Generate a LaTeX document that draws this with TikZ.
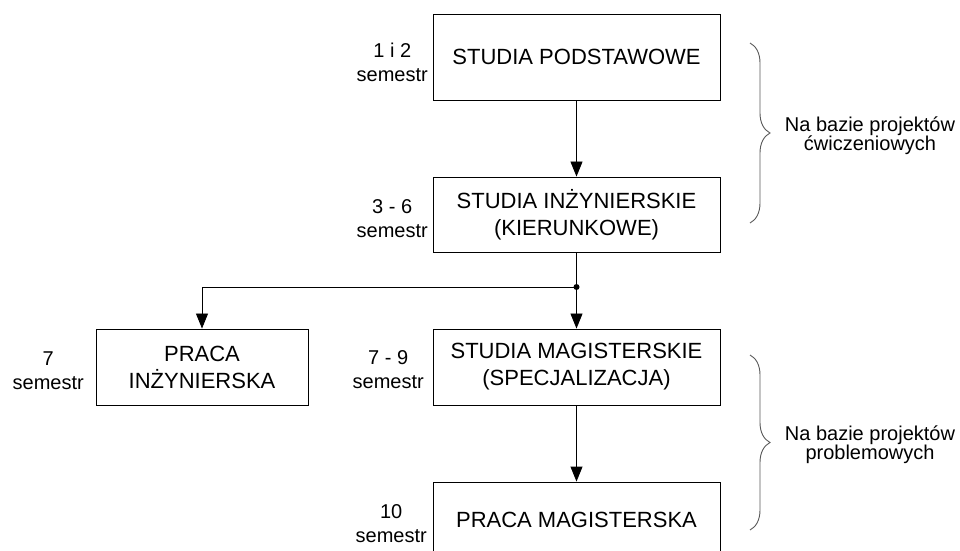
\documentclass[tikz,border=0pt]{standalone}
\usepackage{fontspec}
\setmainfont{Liberation Sans}
\usetikzlibrary{arrows.meta,decorations.pathreplacing}
\tikzset{
  box/.style={draw, rectangle, minimum width=287bp, align=center, font=\fontsize{22bp}{27bp}\selectfont, inner sep=0pt, line width=0.9bp},
  side/.style={anchor=east, align=center, font=\fontsize{20bp}{24bp}\selectfont, inner sep=0pt},
  arr/.style={-{Triangle[length=15bp, width=12bp]}, line width=0.9bp},
  line/.style={line width=0.9bp},
  brc/.style={decorate, decoration={brace, amplitude=20bp}, line width=0.9bp, draw=black!65},
  lbl/.style={align=center, font=\fontsize{20bp}{19bp}\selectfont, inner sep=0pt}
}
\begin{document}
\begin{tikzpicture}[x=1bp, y=-1bp]
\useasboundingbox (0,0) rectangle (960,551);
% boxes
\node[box, minimum height=86bp] (pod) at (576.5,57) {STUDIA PODSTAWOWE};
\node[box, minimum height=75bp] (inz) at (576.5,214.5) {STUDIA INŻYNIERSKIE\\(KIERUNKOWE)};
\node[box, minimum width=212bp, minimum height=76bp] (prinz) at (202,367) {PRACA\\INŻYNIERSKA};
\node[box, minimum height=76bp] (mag) at (576.5,367) {STUDIA MAGISTERSKIE\\(SPECJALIZACJA)};
\node[box, minimum height=76bp] (prmag) at (576.5,520) {PRACA MAGISTERSKA};
% semesters
\node[side] (s12) at (428,62) {1 i 2\\semestr};
\node[side] (s36) at (428,219) {3 - 6\\semestr};
\node[side] (s7) at (84,371) {7\\semestr};
\node[side] (s79) at (424,370) {7 - 9\\semestr};
\node[side] (s10) at (427,524) {10\\semestr};
% connections
\coordinate (split) at (576.5,287);
\draw[arr] (pod) -- (inz);
\draw[line] (inz) -- (split);
\draw[arr] (split) -- (mag);
\draw[arr] (split) -| (prinz);
\draw[arr] (mag) -- (prmag);
\fill (split) circle (3bp);
% braces
\coordinate (b1t) at (750,43);
\coordinate (b1b) at (750,223);
\coordinate (b2t) at (750,355);
\coordinate (b2b) at (750,530);
\draw[brc] (b1t) -- (b1b);
\draw[brc] (b2t) -- (b2b);
\node[lbl] (cw) at (870,136) {Na bazie projektów\\ćwiczeniowych};
\node[lbl] (pr) at (870,445) {Na bazie projektów\\problemowych};
\end{tikzpicture}
\end{document}
